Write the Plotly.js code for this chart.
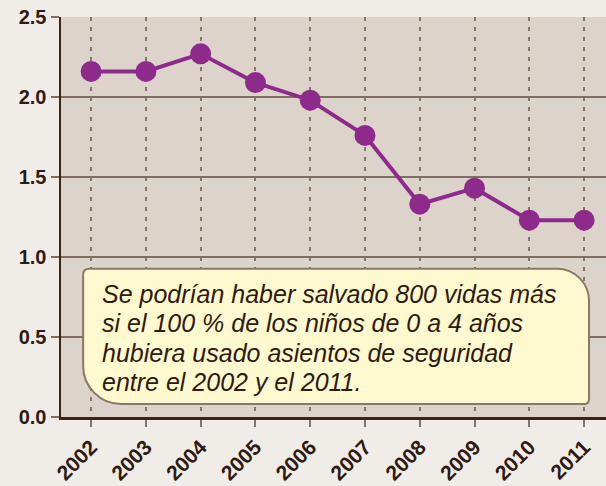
<!DOCTYPE html>
<html>
<head>
<meta charset="utf-8">
<script src="https://cdn.plot.ly/plotly-3.0.1.min.js"></script>
<style>html,body{margin:0;padding:0;background:#f0ede8;}</style>
</head>
<body>
<div id="chart" style="width:606px;height:486px;"></div>
<script>
const years = [2002, 2003, 2004, 2005, 2006, 2007, 2008, 2009, 2010, 2011];
const values = [2.16, 2.16, 2.27, 2.09, 1.98, 1.76, 1.33, 1.43, 1.23, 1.23];
const yTicks = [0, 0.5, 1.0, 1.5, 2.0, 2.5];
const noteLines = [
  "Se podrían haber salvado 800 vidas más",
  "si el 100 % de los niños de 0 a 4 años",
  "hubiera usado asientos de seguridad",
  "entre el 2002 y el 2011."
];

// box geometry (data coords) and corner radii in px
const bx0 = 2001.854, bx1 = 2011.09, by0 = 0.081, by1 = 0.927;
const pxX = 1 / 54.8, pxY = 1 / 159.6;
function r(px) { return [px * pxX, px * pxY]; }
const tl = r(6), bl = r(38), tr = r(32), br = r(5);
const path =
  `M ${bx0 + tl[0]},${by1} L ${bx1 - tr[0]},${by1} ` +
  `C ${bx1 - tr[0] * 0.45},${by1} ${bx1},${by1 - tr[1] * 0.45} ${bx1},${by1 - tr[1]} ` +
  `L ${bx1},${by0 + br[1]} Q ${bx1},${by0} ${bx1 - br[0]},${by0} ` +
  `L ${bx0 + bl[0]},${by0} ` +
  `C ${bx0 + bl[0] * 0.45},${by0} ${bx0},${by0 + bl[1] * 0.45} ${bx0},${by0 + bl[1]} ` +
  `L ${bx0},${by1 - tl[1]} Q ${bx0},${by1} ${bx0 + tl[0]},${by1} Z`;

// line centres in px from top of figure -> data y
const lineCentersPx = [294, 323.5, 353, 382.5];
const noteAnnotations = noteLines.map((t, i) => ({
  xref: 'x', yref: 'y', x: 2002.17, y: (417 - lineCentersPx[i]) * pxY,
  xanchor: 'left', yanchor: 'middle', align: 'left', showarrow: false,
  text: t,
  font: {family: 'Liberation Sans, Arial, sans-serif', size: 25, style: 'italic', color: '#2e1a10'}
}));

const trace = {
  x: years, y: values, type: 'scatter', mode: 'lines+markers',
  line: {color: '#8e2a8c', width: 4},
  marker: {color: '#8e2a8c', size: 21},
  hoverinfo: 'skip'
};

const layout = {
  width: 606, height: 486,
  margin: {l: 61, r: 0, t: 17, b: 69},
  paper_bgcolor: '#f0ede8',
  plot_bgcolor: '#dcd4cb',
  showlegend: false,
  font: {family: 'Liberation Sans, Arial, sans-serif', color: '#2e1a10'},
  xaxis: {
    range: [2001.45, 2011.4],
    tickvals: years, ticktext: years.map(String),
    tickangle: -45,
    tickfont: {size: 21, weight: 'bold', color: '#2e1a10'},
    showgrid: true, gridcolor: '#85766a', gridwidth: 2, griddash: '4px,6px',
    ticks: 'outside', ticklen: 7, tickwidth: 2, tickcolor: '#85766a',
    showline: true, linecolor: '#3b2316', linewidth: 2.5,
    zeroline: false, fixedrange: true
  },
  yaxis: {
    range: [0, 2.5],
    tickvals: yTicks, ticktext: yTicks.map(v => v.toFixed(1)),
    tickfont: {size: 20, weight: 'bold', color: '#2e1a10'},
    showgrid: true, gridcolor: '#7f6f62', gridwidth: 2,
    ticks: 'outside', ticklen: 8, tickwidth: 2, tickcolor: '#7f6f62',
    showline: true, linecolor: '#3b2316', linewidth: 2.5,
    zeroline: false, fixedrange: true
  },
  shapes: [{
    type: 'path', xref: 'x', yref: 'y', path: path,
    fillcolor: '#fff9cf', line: {color: '#8a7866', width: 2}, layer: 'above'
  }],
  annotations: noteAnnotations
};

Plotly.newPlot('chart', [trace], layout, {displayModeBar: false, staticPlot: true});
</script>
</body>
</html>
